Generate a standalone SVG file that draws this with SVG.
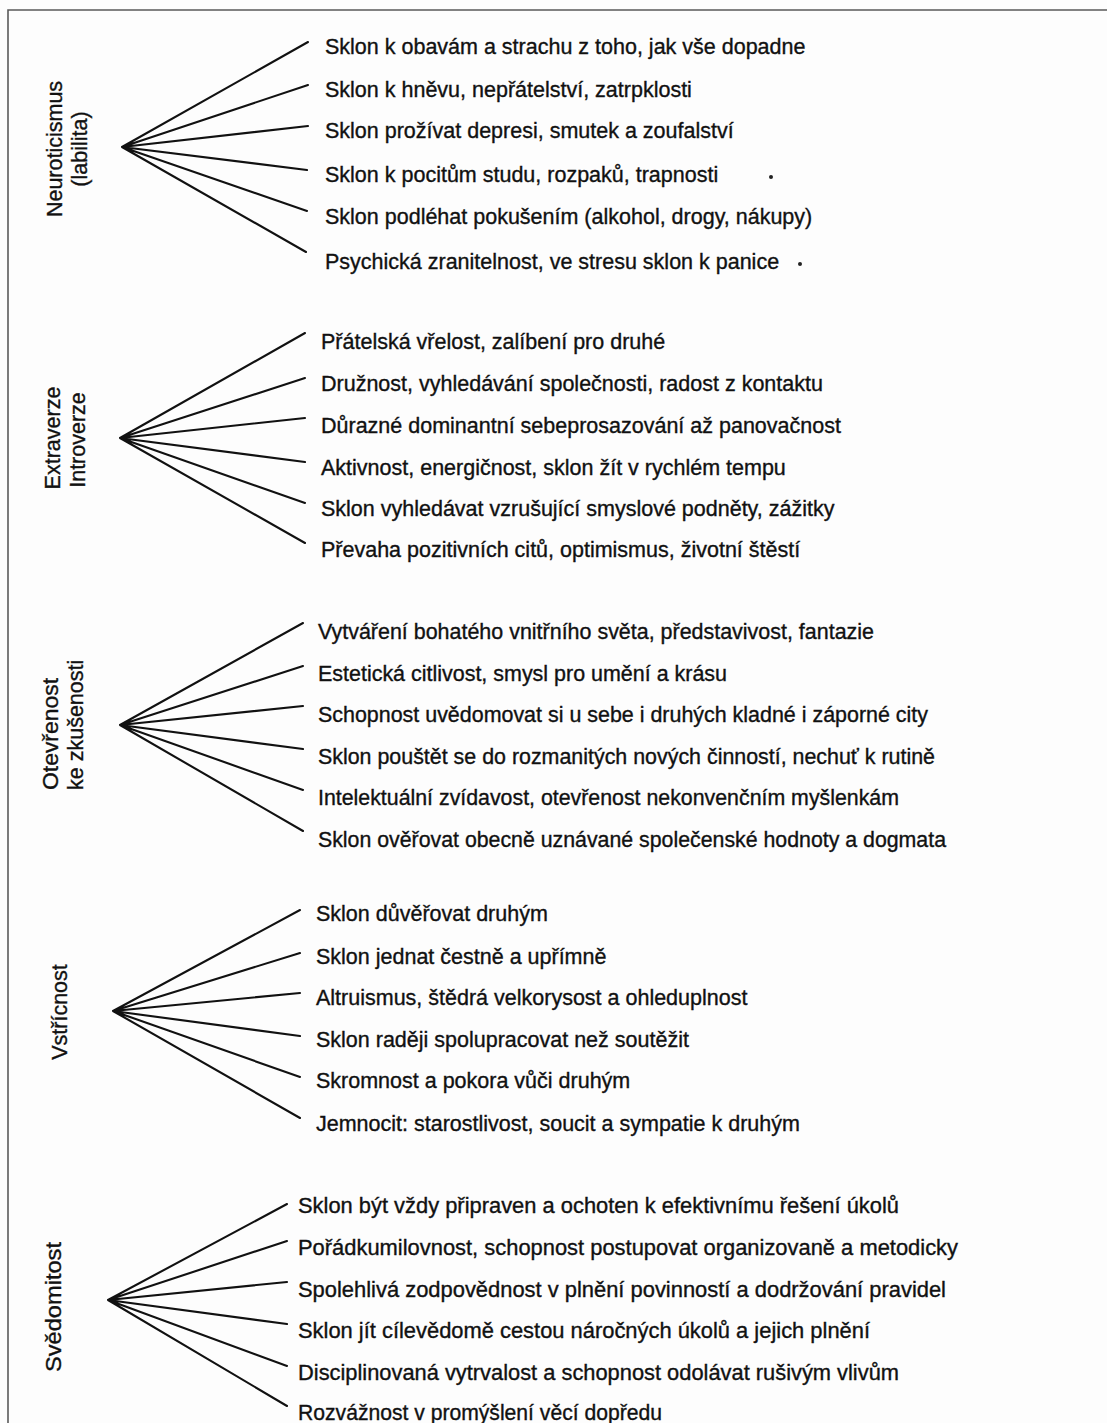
<svg xmlns="http://www.w3.org/2000/svg" width="1107" height="1423" viewBox="0 0 1107 1423">
  <style>
    .frame { stroke: #5a5a5a; stroke-width: 1.6; fill: none; }
    .spoke { stroke: #111; stroke-width: 2.1; fill: none; stroke-linecap: round; }
    .item, .axis { font-family: "Liberation Sans", Arial, sans-serif; font-size: 21.5px; fill: #111; stroke: #111; stroke-width: 0.35; }
  </style>
  <rect width="1107" height="1423" fill="#fdfdfd"/>

  <!-- page frame: top and left edge -->
  <path class="frame" d="M8,1423 V10 H1107"/>

  <!-- fan connectors -->
  <g id="connectors">
    <g id="fan-neuroticismus">
      <path class="spoke" d="M122,147 L308,42 M122,147 L308,85 M122,147 L308,126 M122,147 L307,170 M122,147 L307,211 M122,147 L306,252"/>
    </g>
    <g id="fan-extraverze">
      <path class="spoke" d="M120,438 L305,333 M120,438 L305,378 M120,438 L305,418 M120,438 L305,462 M120,438 L305,503 M120,438 L305,543"/>
    </g>
    <g id="fan-otevrenost">
      <path class="spoke" d="M120,725 L303,623 M120,725 L303,666 M120,725 L303,706 M120,725 L303,749 M120,725 L303,790 M120,725 L303,831"/>
    </g>
    <g id="fan-vstricnost">
      <path class="spoke" d="M113,1011 L300,910 M113,1011 L300,953 M113,1011 L300,993 M113,1011 L300,1036 M113,1011 L300,1077 M113,1011 L300,1118"/>
    </g>
    <g id="fan-svedomitost">
      <path class="spoke" d="M108,1300 L287,1204 M108,1300 L287,1241 M108,1300 L287,1282 M108,1300 L287,1324 M108,1300 L287,1366 M108,1300 L287,1406"/>
    </g>
  </g>

  <!-- Neuroticismus -->
  <g id="node-neuroticismus">
    <text class="axis" text-anchor="middle" transform="translate(62,149) rotate(-90)">Neuroticismus</text>
    <text class="axis" text-anchor="middle" transform="translate(87,149) rotate(-90)">(labilita)</text>
    <text class="item" x="325" y="54">Sklon k obavám a strachu z toho, jak vše dopadne</text>
    <text class="item" x="325" y="97">Sklon k hněvu, nepřátelství, zatrpklosti</text>
    <text class="item" x="325" y="138">Sklon prožívat depresi, smutek a zoufalství</text>
    <text class="item" x="325" y="182">Sklon k pocitům studu, rozpaků, trapnosti</text>
    <text class="item" x="325" y="224">Sklon podléhat pokušením (alkohol, drogy, nákupy)</text>
    <text class="item" x="325" y="269">Psychická zranitelnost, ve stresu sklon k panice</text>
    <circle cx="771" cy="177" r="2" fill="#222"/>
    <circle cx="800" cy="264" r="2" fill="#222"/>
  </g>

  <!-- Extraverze / Introverze -->
  <g id="node-extraverze">
    <text class="axis" text-anchor="middle" transform="translate(60,438) rotate(-90)">Extraverze</text>
    <text class="axis" text-anchor="middle" transform="translate(85,440) rotate(-90)">Introverze</text>
    <text class="item" x="321" y="349">Přátelská vřelost, zalíbení pro druhé</text>
    <text class="item" x="321" y="391">Družnost, vyhledávání společnosti, radost z kontaktu</text>
    <text class="item" x="321" y="433">Důrazné dominantní sebeprosazování až panovačnost</text>
    <text class="item" x="321" y="475">Aktivnost, energičnost, sklon žít v rychlém tempu</text>
    <text class="item" x="321" y="516">Sklon vyhledávat vzrušující smyslové podněty, zážitky</text>
    <text class="item" x="321" y="557">Převaha pozitivních citů, optimismus, životní štěstí</text>
  </g>

  <!-- Otevřenost ke zkušenosti -->
  <g id="node-otevrenost">
    <text class="axis" transform="translate(58,790) rotate(-90)" textLength="112" lengthAdjust="spacingAndGlyphs">Otevřenost</text>
    <text class="axis" transform="translate(83,790) rotate(-90)">ke zkušenosti</text>
    <text class="item" x="318" y="639" textLength="556" lengthAdjust="spacingAndGlyphs">Vytváření bohatého vnitřního světa, představivost, fantazie</text>
    <text class="item" x="318" y="681" textLength="409" lengthAdjust="spacingAndGlyphs">Estetická citlivost, smysl pro umění a krásu</text>
    <text class="item" x="318" y="722" textLength="610" lengthAdjust="spacingAndGlyphs">Schopnost uvědomovat si u sebe i druhých kladné i záporné city</text>
    <text class="item" x="318" y="764" textLength="617" lengthAdjust="spacingAndGlyphs">Sklon pouštět se do rozmanitých nových činností, nechuť k rutině</text>
    <text class="item" x="318" y="805" textLength="581" lengthAdjust="spacingAndGlyphs">Intelektuální zvídavost, otevřenost nekonvenčním myšlenkám</text>
    <text class="item" x="318" y="847" textLength="628" lengthAdjust="spacingAndGlyphs">Sklon ověřovat obecně uznávané společenské hodnoty a dogmata</text>
  </g>

  <!-- Vstřícnost -->
  <g id="node-vstricnost">
    <text class="axis" text-anchor="middle" transform="translate(67,1012) rotate(-90)">Vstřícnost</text>
    <text class="item" x="316" y="921">Sklon důvěřovat druhým</text>
    <text class="item" x="316" y="964">Sklon jednat čestně a upřímně</text>
    <text class="item" x="316" y="1005">Altruismus, štědrá velkorysost a ohleduplnost</text>
    <text class="item" x="316" y="1047">Sklon raději spolupracovat než soutěžit</text>
    <text class="item" x="316" y="1088">Skromnost a pokora vůči druhým</text>
    <text class="item" x="316" y="1131">Jemnocit: starostlivost, soucit a sympatie k druhým</text>
  </g>

  <!-- Svědomitost -->
  <g id="node-svedomitost">
    <text class="axis" text-anchor="middle" transform="translate(61,1307) rotate(-90)" textLength="130" lengthAdjust="spacingAndGlyphs">Svědomitost</text>
    <text class="item" x="298" y="1213" textLength="601" lengthAdjust="spacingAndGlyphs">Sklon být vždy připraven a ochoten k efektivnímu řešení úkolů</text>
    <text class="item" x="298" y="1255" textLength="660" lengthAdjust="spacingAndGlyphs">Pořádkumilovnost, schopnost postupovat organizovaně a metodicky</text>
    <text class="item" x="298" y="1297" textLength="648" lengthAdjust="spacingAndGlyphs">Spolehlivá zodpovědnost v plnění povinností a dodržování pravidel</text>
    <text class="item" x="298" y="1338" textLength="572" lengthAdjust="spacingAndGlyphs">Sklon jít cílevědomě cestou náročných úkolů a jejich plnění</text>
    <text class="item" x="298" y="1380" textLength="601" lengthAdjust="spacingAndGlyphs">Disciplinovaná vytrvalost a schopnost odolávat rušivým vlivům</text>
    <text class="item" x="298" y="1420" textLength="364" lengthAdjust="spacingAndGlyphs">Rozvážnost v promýšlení věcí dopředu</text>
  </g>
</svg>
